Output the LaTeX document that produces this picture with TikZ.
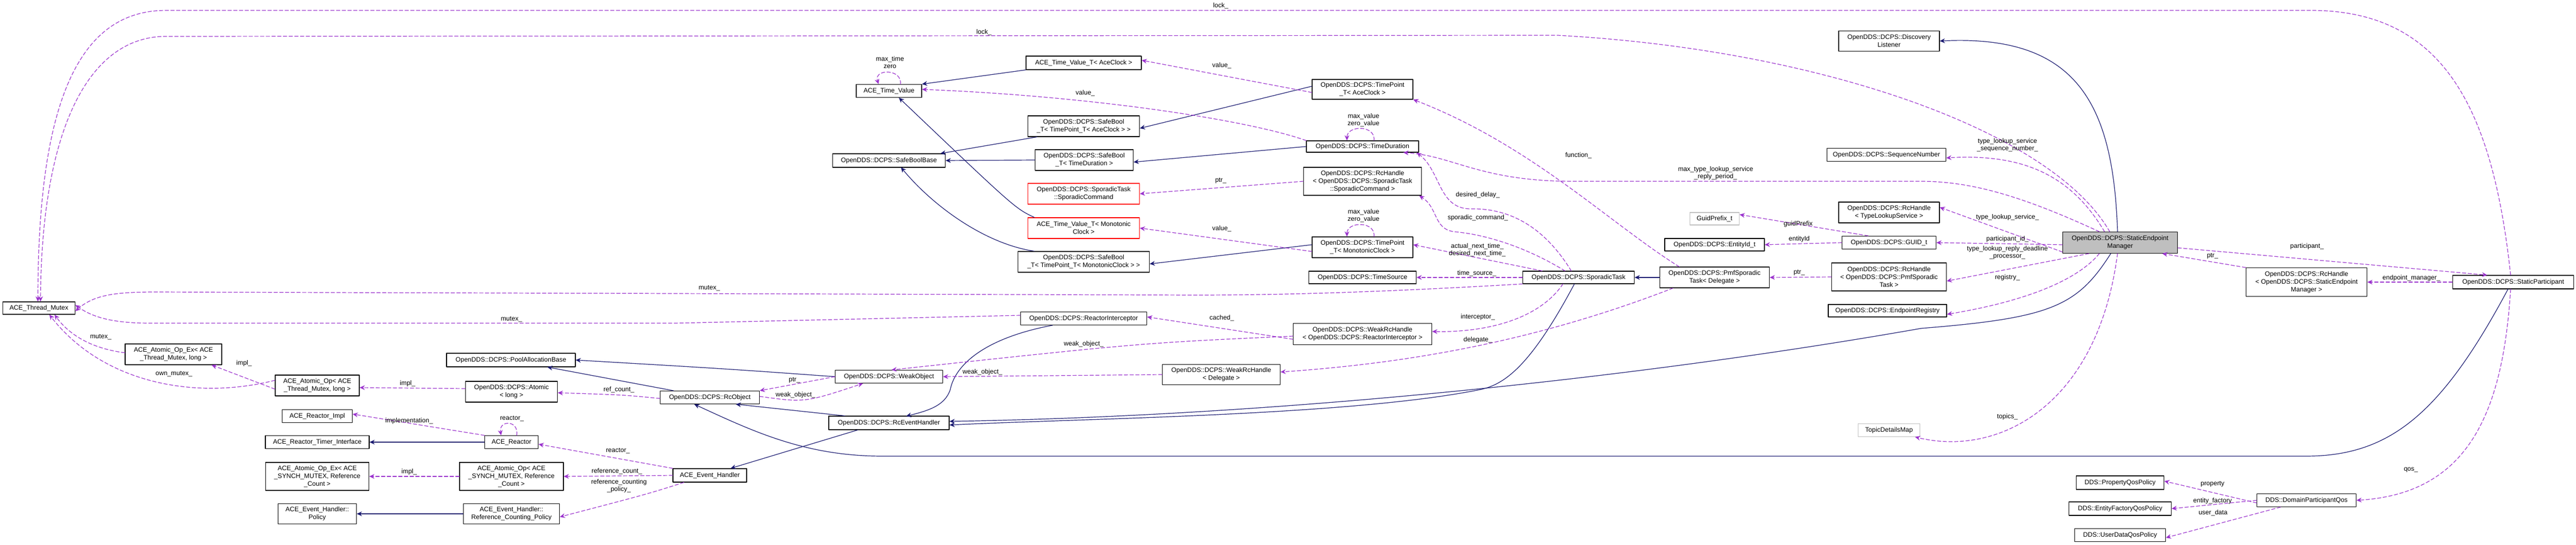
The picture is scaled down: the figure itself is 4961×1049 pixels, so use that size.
\documentclass[tikz,border=0pt]{standalone}
\usepackage{fontspec}
\setmainfont{Liberation Sans}
\usetikzlibrary{arrows.meta}
\definecolor{navy}{RGB}{25,25,112}
\definecolor{orchid}{RGB}{154,50,205}
\tikzset{
  cls/.style={draw, line width=1.1pt, fill=white, inner sep=0pt, align=center, font=\fontsize{12.5}{15}\selectfont},
  grayb/.style={cls, draw=gray!50},
  redb/.style={cls, draw=red},
  inh/.style={draw=navy, line width=1.2pt, -{Stealth[length=10pt,width=9pt]}},
  use/.style={draw=orchid, line width=1.2pt, dash pattern=on 7pt off 4pt, -{Stealth[length=10pt,width=9pt]}},
  lbl/.style={font=\fontsize{12.5}{14}\selectfont, align=center, inner sep=0pt}
}
\newcommand{\clsbox}[7][cls]{\node[#1, minimum width=#5, minimum height=#6] (#2) at (#3,#4) {#7};}
\begin{document}
\begin{tikzpicture}[x=1pt, y=-1pt, line cap=round, line join=round]
\useasboundingbox (0,0) rectangle (4961,1049);
% classes
\clsbox{tm}{75}{593}{139}{24}{ACE\_Thread\_Mutex}
\clsbox{aoexT}{334}{682}{186}{40}{ACE\_Atomic\_Op\_Ex< ACE\\\_Thread\_Mutex, long >}
\clsbox{aoT}{611}{742}{162}{40}{ACE\_Atomic\_Op< ACE\\\_Thread\_Mutex, long >}
\clsbox{atomic}{985}{754}{177}{40}{OpenDDS::DCPS::Atomic\\< long >}
\clsbox{pool}{984}{693}{248}{26}{OpenDDS::DCPS::PoolAllocationBase}
\clsbox{rimpl}{611}{801}{135}{25}{ACE\_Reactor\_Impl}
\clsbox{rtimer}{611}{851}{200}{25}{ACE\_Reactor\_Timer\_Interface}
\clsbox{reactor}{985}{851}{103}{25}{ACE\_Reactor}
\clsbox{aoexS}{611}{917}{199}{54}{ACE\_Atomic\_Op\_Ex< ACE\\\_SYNCH\_MUTEX, Reference\\\_Count >}
\clsbox{aoS}{985}{917}{200}{54}{ACE\_Atomic\_Op< ACE\\\_SYNCH\_MUTEX, Reference\\\_Count >}
\clsbox{ehpol}{611}{989}{151}{39}{ACE\_Event\_Handler::\\Policy}
\clsbox{ehrcp}{985}{989}{185}{39}{ACE\_Event\_Handler::\\Reference\_Counting\_Policy}
\clsbox{tv}{1712}{175}{126}{25}{ACE\_Time\_Value}
\clsbox{tvtace}{2087}{121}{222}{26}{ACE\_Time\_Value\_T< AceClock >}
\clsbox{sbtpace}{2087}{243}{215}{40}{OpenDDS::DCPS::SafeBool\\\_T< TimePoint\_T< AceClock > >}
\clsbox{sbb}{1712}{309}{217}{26}{OpenDDS::DCPS::SafeBoolBase}
\clsbox{sbtd}{2088}{308}{189}{40}{OpenDDS::DCPS::SafeBool\\\_T< TimeDuration >}
\clsbox[redb]{scmd}{2087}{373}{215}{40}{OpenDDS::DCPS::SporadicTask\\::SporadicCommand}
\clsbox[redb]{tvtmono}{2087}{439}{215}{40}{ACE\_Time\_Value\_T< Monotonic\\Clock >}
\clsbox{sbtpmono}{2087}{504}{253}{40}{OpenDDS::DCPS::SafeBool\\\_T< TimePoint\_T< MonotonicClock > >}
\clsbox{rint}{2087}{613}{243}{25}{OpenDDS::DCPS::ReactorInterceptor}
\clsbox{wrhdel}{2352}{721}{227}{39}{OpenDDS::DCPS::WeakRcHandle\\< Delegate >}
\clsbox{wobj}{1712}{725}{207}{25}{OpenDDS::DCPS::WeakObject}
\clsbox{rcobj}{1367}{765}{191}{25}{OpenDDS::DCPS::RcObject}
\clsbox{rceh}{1712}{814}{232}{26}{OpenDDS::DCPS::RcEventHandler}
\clsbox{aceeh}{1367}{915}{142}{26}{ACE\_Event\_Handler}
\clsbox{tpace}{2624}{172}{194}{38}{OpenDDS::DCPS::TimePoint\\\_T< AceClock >}
\clsbox{tdur}{2624}{282}{216}{22}{OpenDDS::DCPS::TimeDuration}
\clsbox{rhcmd}{2624}{349}{227}{54}{OpenDDS::DCPS::RcHandle\\< OpenDDS::DCPS::SporadicTask\\::SporadicCommand >}
\clsbox{tpmono}{2624}{476}{194}{40}{OpenDDS::DCPS::TimePoint\\\_T< MonotonicClock >}
\clsbox{tsrc}{2624}{534}{207}{24}{OpenDDS::DCPS::TimeSource}
\clsbox{wrhri}{2624}{643}{267}{41}{OpenDDS::DCPS::WeakRcHandle\\< OpenDDS::DCPS::ReactorInterceptor >}
\clsbox{spor}{3040}{534}{215}{24}{OpenDDS::DCPS::SporadicTask}
\clsbox{pmf}{3302}{534}{211}{40}{OpenDDS::DCPS::PmfSporadic\\Task< Delegate >}
\clsbox[grayb]{gpref}{3302}{421}{95}{24}{GuidPrefix\_t}
\clsbox{eid}{3302}{471}{192}{24}{OpenDDS::DCPS::EntityId\_t}
\clsbox{disc}{3638}{79}{194}{39}{OpenDDS::DCPS::Discovery\\Listener}
\clsbox{seqn}{3633}{298}{229}{25}{OpenDDS::DCPS::SequenceNumber}
\clsbox{rhtls}{3638}{409}{194}{40}{OpenDDS::DCPS::RcHandle\\< TypeLookupService >}
\clsbox{guid}{3638}{467}{181}{25}{OpenDDS::DCPS::GUID\_t}
\clsbox{rhpmf}{3638}{533}{221}{54}{OpenDDS::DCPS::RcHandle\\< OpenDDS::DCPS::PmfSporadic\\Task >}
\clsbox{ereg}{3635}{598}{228}{24}{OpenDDS::DCPS::EndpointRegistry}
\clsbox[grayb]{tdm}{3638}{828}{119}{25}{TopicDetailsMap}
\clsbox[cls,fill=gray!50]{sem}{4083}{467}{221}{41}{OpenDDS::DCPS::StaticEndpoint\\Manager}
\clsbox{rhsem}{4442}{543}{233}{55}{OpenDDS::DCPS::RcHandle\\< OpenDDS::DCPS::StaticEndpoint\\Manager >}
\clsbox{spart}{4840}{543}{233}{26}{OpenDDS::DCPS::StaticParticipant}
\clsbox{dpqos}{4442}{963}{191}{25}{DDS::DomainParticipantQos}
\clsbox{pqos}{4083}{929}{169}{26}{DDS::PropertyQosPolicy}
\clsbox{efqos}{4083}{979}{197}{26}{DDS::EntityFactoryQosPolicy}
\clsbox{udqos}{4083}{1030}{175}{25}{DDS::UserDataQosPolicy}
% inheritance
\draw[inh] (tvtace.south west) -- (tv.north east);
\draw[inh] ([xshift=-95]tvtmono.north) .. controls (1955,401) .. (1731,188);
\draw[inh] ([xshift=-90]sbtpace.south) -- ([xshift=-10]sbb.north east);
\draw[inh] (sbtd.west) -- (sbb.east);
\draw[inh] ([xshift=-95]sbtpmono.north) .. controls (1900,470) and (1800,400) .. (1735,322);
\draw[inh] ([yshift=6]tpace.west) -- ([yshift=-4]sbtpace.east);
\draw[inh] (tdur.west) -- ([yshift=-4]sbtd.east);
\draw[inh] ([yshift=5]tpmono.west) -- ([yshift=-4]sbtpmono.east);
\draw[inh] (wobj.west) .. controls (1400,710) .. (pool.east);
\draw[inh] ([xshift=-70]rcobj.north) -- ([xshift=70]pool.south);
\draw[inh] ([xshift=-85]rceh.north) -- ([xshift=50]rcobj.south);
\draw[inh] ([xshift=-60]rceh.south) -- ([xshift=40]aceeh.north);
\draw[inh] ([xshift=-60]rint.south) .. controls (1900,650) and (1840,700) .. (1830,750) .. controls (1820,780) and (1790,790) .. (1745,801);
\draw[inh] ([xshift=-8]spor.south) .. controls (2950,700) and (2900,740) .. (2850,750) .. controls (2600,800) and (2100,805) .. ([yshift=-4]rceh.east);
\draw[inh] ([xshift=-18]sem.south) .. controls (4000,590) and (3950,612) .. (3700,632) .. controls (3200,720) and (2500,800) .. ([yshift=3]rceh.east);
\draw[inh] ([xshift=-5]sem.north) .. controls (4070,200) and (4000,66) .. (disc.east);
\draw[inh] ([xshift=-10]spart.south) .. controls (4700,800) and (4600,878) .. (4440,878) -- (1700,878) .. controls (1550,878) and (1450,830) .. ([xshift=-30]rcobj.south);
\draw[inh] (pmf.west) -- (spor.east);
\draw[inh] (ehrcp.west) -- (ehpol.east);
\draw[inh] (reactor.west) -- (rtimer.east);
% usage
\draw[use] ([xshift=-5]spart.north) .. controls (4800,200) and (4700,20) .. (4450,20) -- (320,20) .. controls (150,20) and (73,200) .. ([xshift=-2]tm.north);
\draw[use] ([xshift=-20]sem.north) .. controls (3950,250) and (3500,95) .. (3000,68) -- (320,70) .. controls (170,70) and (80,250) .. ([xshift=3]tm.north);
\draw[use] (spor.south west) .. controls (2700,560) and (2500,568) .. (2300,568) -- (300,562) .. controls (220,562) and (180,568) .. ([yshift=-6]tm.east);
\draw[use] ([yshift=6]rint.west) -- (1300,622) -- (290,622) .. controls (220,622) and (180,612) .. ([yshift=6]tm.east);
\draw[use] ([yshift=3]aoexT.west) .. controls (170,670) and (130,640) .. ([xshift=30]tm.south);
\draw[use] ([yshift=10]aoT.west) .. controls (380,770) and (200,740) .. ([xshift=20]tm.south);
\draw[use] ([yshift=-7]aoT.west) -- ([xshift=-20]aoexT.south east);
\draw[use] ([yshift=6]atomic.west) -- ([yshift=-4]aoT.east);
\draw[use] ([yshift=-2]rcobj.west) .. controls (1200,760) .. ([yshift=-2]atomic.east);
\draw[use] (reactor.north west) -- ([yshift=4]rimpl.east);
\draw[use] ([xshift=10]reactor.north) .. controls ([shift={(15,-30)}]reactor.north) and ([shift={(-25,-30)}]reactor.north) .. ([xshift=-20]reactor.north);
\draw[use] (aceeh.north west) -- ([yshift=-4]reactor.east);
\draw[use] (aceeh.west) -- (aoS.east);
\draw[use] (aoS.west) -- (aoexS.east);
\draw[use] ([xshift=-50]aceeh.south) .. controls (1250,950) .. ([yshift=-6]ehrcp.east);
\draw[use] ([xshift=22]tv.north) .. controls ([shift={(26,-30)}]tv.north) and ([shift={(-30,-30)}]tv.north) .. ([xshift=-20]tv.north);
\draw[use] ([yshift=-6]tpace.west) -- ([yshift=5]tvtace.east);
\draw[use] (tdur.north west) .. controls (2400,230) and (2100,185) .. ([yshift=3]tv.east);
\draw[use] (rhcmd.west) -- (scmd.east);
\draw[use] ([yshift=-8]tpmono.west) -- (tvtmono.east);
\draw[use] ([yshift=-10]wrhri.west) -- ([yshift=3]rint.east);
\draw[use] ([yshift=-4]wrhri.west) .. controls (2200,660) .. ([xshift=5]wobj.north);
\draw[use] (wrhdel.west) -- (wobj.east);
\draw[use] (wobj.west) -- (rcobj.north east);
\draw[use] ([yshift=2]rcobj.east) .. controls (1550,775) .. ([xshift=-50]wobj.south);
\draw[use] ([xshift=-80]pmf.south) .. controls (2950,660) and (2700,700) .. ([yshift=5]wrhdel.east);
\draw[use] ([xshift=-68]pmf.north) .. controls (3100,430) and (2950,280) .. (tpace.south east);
\draw[use] ([xshift=22]tdur.north) .. controls ([shift={(26,-30)}]tdur.north) and ([shift={(-30,-30)}]tdur.north) .. ([xshift=-30]tdur.north);
\draw[use] ([xshift=22]tpmono.north) .. controls ([shift={(26,-30)}]tpmono.north) and ([shift={(-30,-30)}]tpmono.north) .. ([xshift=-30]tpmono.north);
\draw[use] ([xshift=-14]spor.north) .. controls (2970,430) and (2900,400) .. (2830,402) .. controls (2770,400) and (2775,330) .. ([xshift=-4]tdur.south east);
\draw[use] ([xshift=-26]spor.north) .. controls (2930,470) and (2850,450) .. (2800,446) .. controls (2760,440) and (2770,400) .. ([xshift=-5]rhcmd.south east);
\draw[use] ([xshift=-70]spor.north) -- ([yshift=5]tpmono.east);
\draw[use] (spor.west) -- (tsrc.east);
\draw[use] ([xshift=-30]spor.south) .. controls (2960,620) and (2850,640) .. ([yshift=5]wrhri.east);
\draw[use] ([xshift=-40]sem.north) .. controls (3900,380) and (3800,349) .. (3700,349) -- (3030,349) .. controls (2850,349) and (2800,300) .. ([xshift=-30]tdur.south east);
\draw[use] ([xshift=-30]sem.north) .. controls (3990,340) and (3900,295) .. ([yshift=-6]seqn.east);
\draw[use] ([yshift=-18]sem.west) -- ([yshift=10]rhtls.east);
\draw[use] ([yshift=-4]sem.west) -- (guid.east);
\draw[use] ([xshift=-60]sem.south) -- ([yshift=-8]rhpmf.east);
\draw[use] ([xshift=-40]sem.south) .. controls (4000,540) and (3900,580) .. ([yshift=-7]ereg.east);
\draw[use] ([xshift=-5]sem.south) .. controls (4040,780) and (3850,880) .. ([xshift=-10]tdm.south east);
\draw[use] ([xshift=-40]guid.north) -- ([yshift=8]gpref.east);
\draw[use] (guid.west) -- (eid.east);
\draw[use] (rhpmf.west) -- (pmf.east);
\draw[use] (rhsem.north west) -- ([xshift=-30]sem.south east);
\draw[use] ([yshift=-10]sem.east) -- ([xshift=-50]spart.north);
\draw[use] (spart.west) -- (rhsem.east);
\draw[use] ([xshift=-5]spart.south) .. controls (4820,800) and (4750,950) .. (dpqos.east);
\draw[use] ([yshift=-5]dpqos.west) -- ([yshift=3]pqos.east);
\draw[use] (dpqos.west) -- (efqos.east);
\draw[use] ([xshift=-50]dpqos.south) -- ([yshift=-5]udqos.east);
% labels
\node[lbl] at (2351,11) {lock\_};
\node[lbl] at (1895,62) {lock\_};
\node[lbl] at (1366,555) {mutex\_};
\node[lbl] at (985,615) {mutex\_};
\node[lbl] at (194,649) {mutex\_};
\node[lbl] at (335,720) {own\_mutex\_};
\node[lbl] at (470,699) {impl\_};
\node[lbl] at (785,738) {impl\_};
\node[lbl] at (1192,750) {ref\_count\_};
\node[lbl] at (788,810) {implementation\_};
\node[lbl] at (986,806) {reactor\_};
\node[lbl] at (1190,868) {reactor\_};
\node[lbl] at (1188,907) {reference\_count\_};
\node[lbl] at (788,908) {impl\_};
\node[lbl] at (1192,935) {reference\_counting\\\_policy\_};
\node[lbl] at (1714,120) {max\_time\\zero};
\node[lbl] at (2353,126) {value\_};
\node[lbl] at (2090,179) {value\_};
\node[lbl] at (2351,348) {ptr\_};
\node[lbl] at (2353,440) {value\_};
\node[lbl] at (2353,612) {cached\_};
\node[lbl] at (2087,662) {weak\_object\_};
\node[lbl] at (1892,716) {weak\_object\_};
\node[lbl] at (1530,732) {ptr\_};
\node[lbl] at (1532,760) {weak\_object\_};
\node[lbl] at (2846,654) {delegate\_};
\node[lbl] at (3040,299) {function\_};
\node[lbl] at (2626,231) {max\_value\\zero\_value};
\node[lbl] at (2626,415) {max\_value\\zero\_value};
\node[lbl] at (2846,375) {desired\_delay\_};
\node[lbl] at (2846,419) {sporadic\_command\_};
\node[lbl] at (2845,481) {actual\_next\_time\_\\desired\_next\_time\_};
\node[lbl] at (2844,526) {time\_source\_};
\node[lbl] at (2846,610) {interceptor\_};
\node[lbl] at (3304,333) {max\_type\_lookup\_service\\\_reply\_period\_};
\node[lbl] at (3866,279) {type\_lookup\_service\\\_sequence\_number\_};
\node[lbl] at (3866,418) {type\_lookup\_service\_};
\node[lbl] at (3866,460) {participant\_id\_};
\node[lbl] at (3866,486) {type\_lookup\_reply\_deadline\\\_processor\_};
\node[lbl] at (3866,534) {registry\_};
\node[lbl] at (3866,802) {topics\_};
\node[lbl] at (3463,431) {guidPrefix};
\node[lbl] at (3465,460) {entityId};
\node[lbl] at (3465,525) {ptr\_};
\node[lbl] at (4261,493) {ptr\_};
\node[lbl] at (4443,474) {participant\_};
\node[lbl] at (4644,535) {endpoint\_manager\_};
\node[lbl] at (4643,904) {qos\_};
\node[lbl] at (4261,932) {property};
\node[lbl] at (4261,964) {entity\_factory};
\node[lbl] at (4262,987) {user\_data};
\end{tikzpicture}
\end{document}
